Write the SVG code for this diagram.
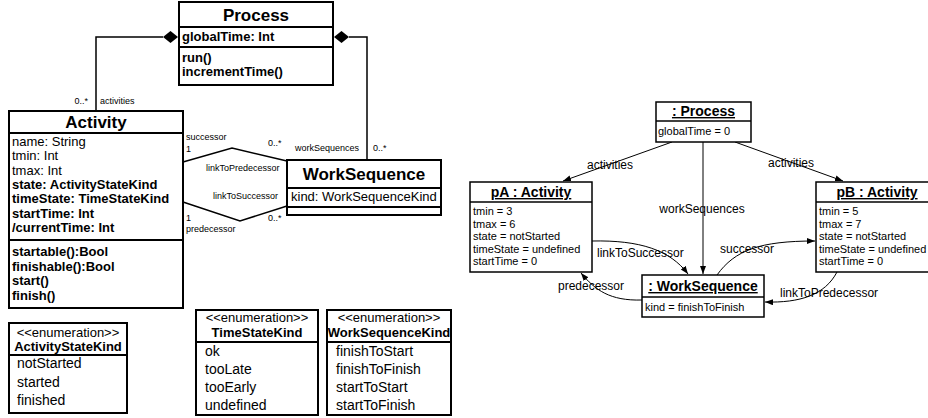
<svg xmlns="http://www.w3.org/2000/svg" width="928" height="418" viewBox="0 0 928 418">
<style>
text{font-family:"Liberation Sans",Arial,sans-serif;fill:#000}
.box{fill:#fff;stroke:#000;stroke-width:2}
.obox{fill:#fff;stroke:#000;stroke-width:1.5}
.div{stroke:#000;stroke-width:2}
.odiv{stroke:#000;stroke-width:1.5}
.t17{font-size:17px;font-weight:bold}
.b13{font-size:13px;font-weight:bold}
.r13{font-size:13px}
.r14{font-size:14px}
.s9{font-size:9px}
.ot{font-size:14px;font-weight:bold;text-decoration:underline}
.oa{font-size:11px}
.ol{font-size:12px}
.mid{text-anchor:middle}
.end{text-anchor:end}
.cl{fill:none;stroke:#000;stroke-width:1.5}
.oc{fill:none;stroke:#000;stroke-width:1}
</style>
<defs>
<marker id="arr" markerWidth="9" markerHeight="7" refX="8" refY="3" orient="auto" markerUnits="userSpaceOnUse">
<path d="M0,0 L8,3 L0,6 z" fill="#000"/>
</marker>
</defs>

<g id="connectors">
<path class="cl" d="M96,111 V37 H163"/>
<polygon points="163,37 170.5,31 178,37 170.5,43" fill="#000"/>
<polygon points="334,37 341.5,31 349,37 341.5,43" fill="#000"/>
<path class="cl" d="M349,37 H367 V160"/>
<polyline class="cl" points="183,162 232,148 287,161"/>
<polyline class="cl" points="183,202 240,221 287,206"/>
<text class="s9 end" x="88" y="104">0..*</text>
<text class="s9" x="100" y="104">activities</text>
<text class="s9" x="186" y="140">successor</text>
<text class="s9" x="186" y="152">1</text>
<text class="s9" x="268" y="146">0..*</text>
<text class="s9" x="295" y="151">workSequences</text>
<text class="s9" x="373" y="151">0..*</text>
<text class="s9" x="206" y="171">linkToPredecessor</text>
<text class="s9" x="213" y="199">linkToSuccessor</text>
<text class="s9" x="186" y="221">1</text>
<text class="s9" x="268" y="221">0..*</text>
<text class="s9" x="186" y="232">predecessor</text>

<path class="oc" d="M672,142 L563,181" marker-end="url(#arr)"/>
<path class="oc" d="M735,142 L843,181" marker-end="url(#arr)"/>
<path class="oc" d="M703,142 V274" marker-end="url(#arr)"/>
<path class="oc" d="M592,241 C640,240 670,250 688,274" marker-end="url(#arr)"/>
<path class="oc" d="M717,275 C735,250 760,241 815,241" marker-end="url(#arr)"/>
<path class="oc" d="M642,300 C610,301 595,290 581,273" marker-end="url(#arr)"/>
<path class="oc" d="M837,272 C825,295 800,303 765,302" marker-end="url(#arr)"/>
<text class="ol mid" x="610" y="169">activities</text>
<text class="ol mid" x="791" y="167">activities</text>
<text class="ol mid" x="702" y="213">workSequences</text>
<text class="ol" x="597" y="257">linkToSuccessor</text>
<text class="ol" x="720" y="253">successor</text>
<text class="ol" x="558" y="290">predecessor</text>
<text class="ol" x="780" y="297">linkToPredecessor</text>
</g>

<g id="Process">
<rect class="box" x="179" y="2" width="154" height="83"/>
<line class="div" x1="179" y1="27" x2="333" y2="27"/>
<line class="div" x1="179" y1="47" x2="333" y2="47"/>
<text class="t17 mid" x="256" y="21">Process</text>
<text class="b13" x="182" y="41">globalTime: Int</text>
<text class="b13" x="182" y="62">run()</text>
<text class="b13" x="182" y="76">incrementTime()</text>
</g>

<g id="Activity">
<rect class="box" x="9" y="111" width="174" height="197"/>
<line class="div" x1="9" y1="133" x2="183" y2="133"/>
<line class="div" x1="9" y1="240" x2="183" y2="240"/>
<text class="t17 mid" x="96" y="128">Activity</text>
<text class="r13" x="12" y="146">name: String</text>
<text class="r13" x="12" y="160">tmin: Int</text>
<text class="r13" x="12" y="175">tmax: Int</text>
<text class="b13" x="12" y="189">state: ActivityStateKind</text>
<text class="b13" x="12" y="203">timeState: TimeStateKind</text>
<text class="b13" x="12" y="218">startTime: Int</text>
<text class="b13" x="12" y="232">/currentTime: Int</text>
<text class="b13" x="12" y="256">startable():Bool</text>
<text class="b13" x="12" y="271">finishable():Bool</text>
<text class="b13" x="12" y="285">start()</text>
<text class="b13" x="12" y="300">finish()</text>
</g>

<g id="WorkSequence">
<rect class="box" x="287" y="160" width="154" height="55"/>
<line class="div" x1="287" y1="188" x2="441" y2="188"/>
<line class="div" x1="287" y1="207" x2="441" y2="207"/>
<text class="t17 mid" x="364" y="180">WorkSequence</text>
<text class="r13" x="291" y="201">kind: WorkSequenceKind</text>
</g>

<g id="ActivityStateKind">
<rect class="box" x="9" y="323" width="118" height="90"/>
<line class="div" x1="9" y1="355" x2="127" y2="355"/>
<text class="r13 mid" x="68" y="337">&lt;&lt;enumeration&gt;&gt;</text>
<text class="b13 mid" x="68" y="351">ActivityStateKind</text>
<text class="r14" x="17" y="368">notStarted</text>
<text class="r14" x="17" y="387">started</text>
<text class="r14" x="17" y="405">finished</text>
</g>

<g id="TimeStateKind">
<rect class="box" x="196" y="310" width="122" height="105"/>
<line class="div" x1="196" y1="342" x2="318" y2="342"/>
<text class="r13 mid" x="257" y="322">&lt;&lt;enumeration&gt;&gt;</text>
<text class="b13 mid" x="257" y="337">TimeStateKind</text>
<text class="r14" x="205" y="356">ok</text>
<text class="r14" x="205" y="374">tooLate</text>
<text class="r14" x="205" y="392">tooEarly</text>
<text class="r14" x="205" y="410">undefined</text>
</g>

<g id="WorkSequenceKind">
<rect class="box" x="327" y="310" width="124" height="105"/>
<line class="div" x1="327" y1="342" x2="451" y2="342"/>
<text class="r13 mid" x="389" y="322">&lt;&lt;enumeration&gt;&gt;</text>
<text class="b13 mid" x="389" y="337">WorkSequenceKind</text>
<text class="r14" x="336" y="356">finishToStart</text>
<text class="r14" x="336" y="374">finishToFinish</text>
<text class="r14" x="336" y="392">startToStart</text>
<text class="r14" x="336" y="410">startToFinish</text>
</g>

<g id="processObj">
<rect class="obox" x="656" y="102" width="95" height="40"/>
<line class="odiv" x1="656" y1="121" x2="751" y2="121"/>
<text class="ot mid" x="703.5" y="116">: Process</text>
<text class="oa" x="658" y="135">globalTime = 0</text>
</g>

<g id="pA">
<rect class="obox" x="470" y="182" width="122" height="90"/>
<line class="odiv" x1="470" y1="202" x2="592" y2="202"/>
<text class="ot mid" x="531" y="197">pA : Activity</text>
<text class="oa" x="473" y="215">tmin = 3</text>
<text class="oa" x="473" y="228">tmax = 6</text>
<text class="oa" x="473" y="240">state = notStarted</text>
<text class="oa" x="473" y="253">timeState = undefined</text>
<text class="oa" x="473" y="265">startTime = 0</text>
</g>

<g id="pB">
<rect class="obox" x="816" y="182" width="122" height="90"/>
<line class="odiv" x1="816" y1="202" x2="938" y2="202"/>
<text class="ot mid" x="877" y="197">pB : Activity</text>
<text class="oa" x="819" y="215">tmin = 5</text>
<text class="oa" x="819" y="228">tmax = 7</text>
<text class="oa" x="819" y="240">state = notStarted</text>
<text class="oa" x="819" y="253">timeState = undefined</text>
<text class="oa" x="819" y="265">startTime = 0</text>
</g>

<g id="wsObj">
<rect class="obox" x="642" y="275" width="122" height="42"/>
<line class="odiv" x1="642" y1="297" x2="764" y2="297"/>
<text class="ot mid" x="703" y="291">: WorkSequence</text>
<text class="oa" x="645" y="311">kind = finishToFinish</text>
</g>
</svg>
